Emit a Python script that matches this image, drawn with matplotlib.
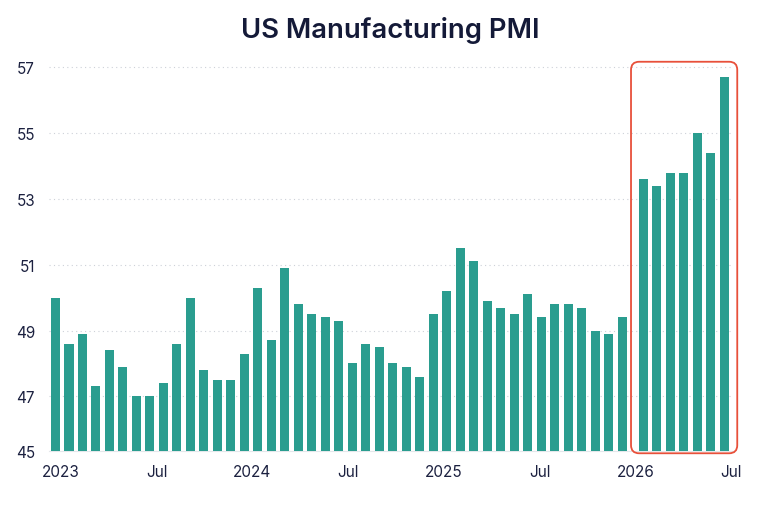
import numpy as np
import matplotlib.pyplot as plt
from matplotlib.patches import FancyBboxPatch

# ---- data ----
pmi_hist = [50.0, 48.6, 48.9, 47.3, 48.4, 47.9, 47.0, 47.0, 47.4, 48.6,
            50.0, 47.8, 47.5, 47.5, 48.3, 50.3, 48.7, 50.9, 49.8, 49.5,
            49.4, 49.3, 48.0, 48.6, 48.5, 48.0, 47.9, 47.6, 49.5, 50.2,
            51.5, 51.1, 49.9, 49.7, 49.5, 50.1, 49.4, 49.8, 49.8, 49.7,
            49.0, 48.9, 49.4]
pmi_2026 = [53.6, 53.4, 53.8, 53.8, 55.0, 54.4, 56.7]
x_labels = ["2023", "Jul", "2024", "Jul", "2025", "Jul", "2026", "Jul"]
y_labels = ["45", "47", "49", "51", "53", "55", "57"]

BAR = "#2a9d8f"
INK = "#1c2140"
GRID = "#cdd1d8"
BOX = "#e8503a"

plt.rcParams['font.family'] = ['Inter', 'DejaVu Sans']

fig = plt.figure(figsize=(7.64, 5.10), dpi=100)
W, H = 764, 510
# axes placed in pixel terms
ax = fig.add_axes([49 / W, 1 - 452.3 / H, (733 - 49) / W, (452.3 - 51.9) / H])

group_gap = 0.55
x_hist = np.arange(len(pmi_hist))
x_new = len(pmi_hist) + group_gap + np.arange(len(pmi_2026))
ybase = 45.33
width = 0.69

ax.bar(x_hist, np.array(pmi_hist) - ybase, bottom=ybase, width=width, color=BAR, zorder=3)
ax.bar(x_new, np.array(pmi_2026) - ybase, bottom=ybase, width=width, color=BAR, zorder=3)

ax.set_xlim(-0.47, 50.2)
ax.set_ylim(ybase, 57.5)

ax.set_yticks([ybase, 47, 49, 51, 53, 55, 57])
ax.set_yticklabels(y_labels)
ax.set_xticks(np.linspace(0.42, 50.05, len(x_labels)))
ax.set_xticklabels(x_labels)
ax.tick_params(axis='both', length=0, labelsize=11, colors=INK)
ax.tick_params(axis='y', pad=10)
ax.tick_params(axis='x', pad=9)

ax.grid(axis='y', linestyle=(0, (1, 3)), color=GRID, linewidth=0.8, zorder=0)
for s in ['top', 'right', 'left']:
    ax.spines[s].set_visible(False)
ax.spines['bottom'].set_color('#e4e7eb')
ax.spines['bottom'].set_linewidth(0.8)

# highlight box round the 2026 group
x0 = x_new[0] - width / 2 - 0.56
x1 = x_new[-1] + width / 2 + 0.62
y0, y1 = 45.27, 57.17
box = FancyBboxPatch((x0, y0), x1 - x0, y1 - y0,
                     boxstyle="round,pad=0,rounding_size=0.6",
                     mutation_aspect=13.5 / 32.85,
                     facecolor='none', edgecolor=BOX, linewidth=1.3,
                     clip_on=False, zorder=4)
ax.add_patch(box)

fig.text(390 / W, 1 - 30 / H, "US Manufacturing PMI", ha='center', va='center',
         fontsize=19.8, fontweight='semibold', color="#141a38")

fig.savefig("out.png", dpi=100, facecolor='white')
